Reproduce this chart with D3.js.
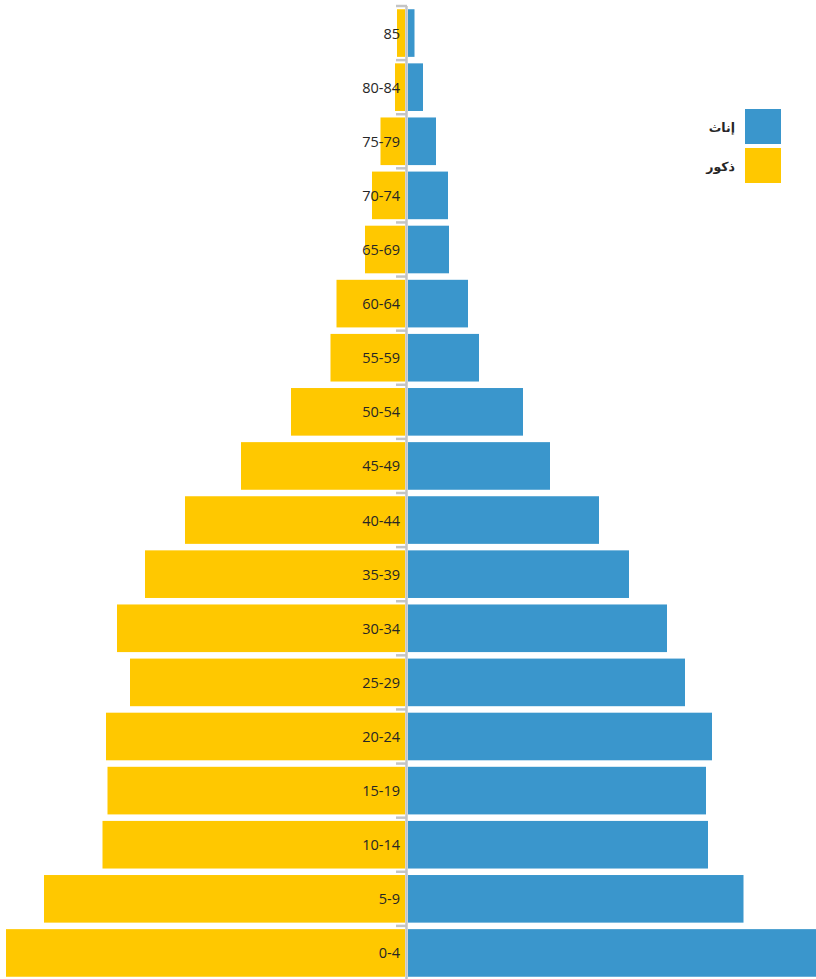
<!DOCTYPE html>
<html>
<head>
<meta charset="utf-8">
<script src="https://cdn.jsdelivr.net/npm/d3@7"></script>
<style>
  html, body { margin: 0; padding: 0; background: #fff; }
  svg { display: block; }
</style>
</head>
<body>
<div id="chart"></div>
<script>
// Age groups (top to bottom)
const ageGroups = ["85", "80-84", "75-79", "70-74", "65-69", "60-64", "55-59", "50-54", "45-49",
  "40-44", "35-39", "30-34", "25-29", "20-24", "15-19", "10-14", "5-9", "0-4"];
// Males (ذكور) – estimated values
const males = [8, 10, 24.5, 33, 40, 68.5, 74.5, 114, 164, 220, 260, 288, 275, 299, 297.5, 302.5, 361, 399];
// Females (إناث) – estimated values
const females = [6.5, 15, 28, 40, 41, 60, 71, 115, 142, 191, 221, 259, 277, 304, 298, 300, 335.5, 412];
const legendLabels = ["إناث", "ذكور"];
const colors = { female: "#3A96CC", male: "#FFC800" };

const W = 816, H = 979;
const cx = 407;

const svg = d3.select("#chart").append("svg").attr("width", W).attr("height", H);

const y = d3.scaleBand().domain(ageGroups).range([6, 980]).paddingInner(0.12).paddingOuter(0.06);
const xMale = d3.scaleLinear().domain([0, 400]).range([cx - 2, cx - 2 - 400]);
const xFemale = d3.scaleLinear().domain([0, 400]).range([cx + 1, cx + 1 + 400]);

const rows = ageGroups.map((g, i) => ({ g, m: males[i], f: females[i] }));

svg.selectAll("rect.male").data(rows).join("rect")
  .attr("class", "male")
  .attr("x", d => xMale(d.m)).attr("y", d => y(d.g))
  .attr("width", d => xMale(0) - xMale(d.m)).attr("height", y.bandwidth())
  .attr("fill", colors.male);

svg.selectAll("rect.female").data(rows).join("rect")
  .attr("class", "female")
  .attr("x", xFemale(0)).attr("y", d => y(d.g))
  .attr("width", d => xFemale(d.f) - xFemale(0)).attr("height", y.bandwidth())
  .attr("fill", colors.female);

// central axis line
svg.append("line")
  .attr("x1", cx - 0.5).attr("x2", cx - 0.5)
  .attr("y1", y.range()[0]).attr("y2", H)
  .attr("stroke", "#c4c4c4").attr("stroke-width", 2.5);

// ticks at band boundaries
const step = y.step();
const boundaries = ageGroups.map(g => y(g) - step * y.paddingOuter());
svg.selectAll("line.tick").data(boundaries).join("line")
  .attr("class", "tick")
  .attr("x1", cx - 11).attr("x2", cx)
  .attr("y1", d => d).attr("y2", d => d)
  .attr("stroke", "#c4c4c4").attr("stroke-width", 2.5);

// labels
svg.selectAll("text.lbl").data(ageGroups).join("text")
  .attr("class", "lbl")
  .attr("x", cx - 7).attr("y", d => y(d) + y.bandwidth() / 2)
  .attr("text-anchor", "end").attr("dominant-baseline", "central")
  .attr("font-family", "'Open Sans', sans-serif").attr("font-size", 14.5)
  .attr("fill", "#262626")
  .text(d => d);

// legend
const legend = [
  { label: legendLabels[0], color: colors.female, y: 109 },
  { label: legendLabels[1], color: colors.male, y: 148 }
];
const lg = svg.append("g");
lg.selectAll("rect").data(legend).join("rect")
  .attr("x", 745).attr("y", d => d.y).attr("width", 36).attr("height", 35)
  .attr("fill", d => d.color);
lg.selectAll("text").data(legend).join("text")
  .attr("x", 735).attr("y", d => d.y + 18)
  .attr("text-anchor", "end").attr("dominant-baseline", "central")
  .attr("font-family", "'Noto Sans', 'DejaVu Sans', sans-serif").attr("font-size", 12.5)
  .attr("font-weight", "bold").attr("fill", "#262626")
  .text(d => d.label);
</script>
</body>
</html>
